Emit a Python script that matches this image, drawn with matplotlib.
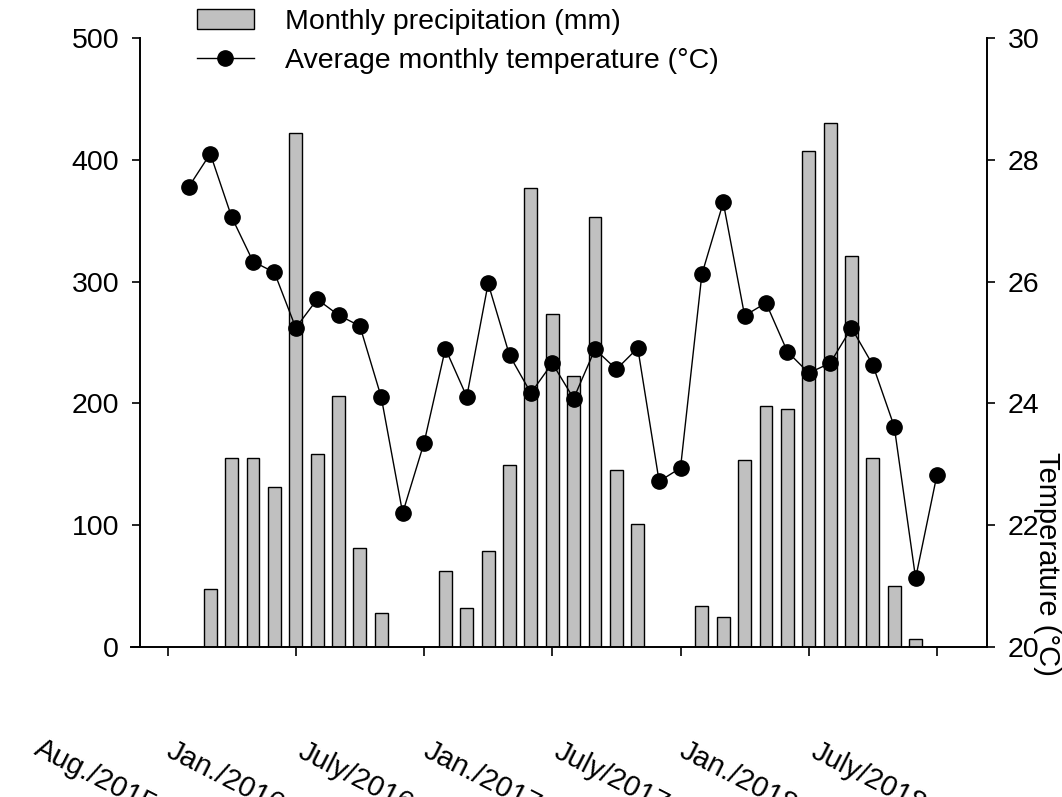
import numpy as np
import matplotlib
matplotlib.use("Agg")
import matplotlib.pyplot as plt
from matplotlib import transforms

plt.rcParams['font.family'] = ['Liberation Sans', 'DejaVu Sans']
plt.rcParams['font.size'] = 20.5

# Monthly series, Aug 2015 .. Jul 2018
precip = [0, 47.6, 155.4, 155.4, 131.6, 421.7, 158.5, 206.3, 81.5, 27.9, 0, 0,
          62.4, 32, 78.8, 149.2, 377, 273.4, 222.8, 353, 145.6, 101.3, 0, 0,
          33.7, 24.6, 153.8, 197.6, 195.7, 407.5, 430.5, 321.3, 155.2, 50.3, 6.6, 0]
temp = [27.56, 28.10, 27.06, 26.33, 26.15, 25.24, 25.71, 25.45, 25.27, 24.10, 22.20, 23.35,
        24.90, 24.11, 25.97, 24.79, 24.17, 24.66, 24.08, 24.89, 24.56, 24.91, 22.72, 22.94,
        26.12, 27.30, 25.44, 25.65, 24.85, 24.50, 24.66, 25.24, 24.63, 23.62, 21.13, 22.83]
tick_pos = [-1, 5, 11, 17, 23, 29, 35]
tick_labels = ["Aug./2015", "Jan./2016", "July/2016", "Jan./2017",
               "July/2017", "Jan./2018", "July/2018"]

months = np.arange(len(precip))

fig = plt.figure(figsize=(10.62, 7.97), dpi=100)
ax = fig.add_axes([131 / 1062, 1 - 647 / 797, 856 / 1062, 609 / 797])
ax2 = ax.twinx()

bars = ax.bar(months, precip, width=0.6, color="#c0c0c0", edgecolor="black",
              linewidth=1.0, label="Monthly precipitation (mm)")
line, = ax2.plot(months, temp, color="black", linewidth=1.0, marker="o",
                 markersize=11, label="Average monthly temperature (°C)")

ax.set_xlim(-2.71, 37.34)
ax.set_ylim(0, 500)
ax2.set_ylim(20, 30)
ax.set_yticks(np.arange(0, 501, 100))
ax2.set_yticks(np.arange(20, 31, 2))

for a in (ax, ax2):
    a.spines['top'].set_visible(False)
    for s in a.spines.values():
        s.set_linewidth(1.4)
ax.spines['right'].set_visible(False)
ax2.spines['left'].set_visible(False)
ax2.spines['bottom'].set_visible(False)
ax.spines['left'].set_position(('axes', 0.0105))

ax.tick_params(axis='y', direction='out', length=6, width=1.2, pad=9)
ax2.tick_params(axis='y', direction='out', length=6, width=1.2, pad=9)
ax.set_xticks(tick_pos)
ax.set_xticklabels([])
ax.tick_params(axis='x', direction='out', length=6.5, width=1.2)

# rotated date labels, pushed far below the axis (partly cut by the edge)
trans = transforms.blended_transform_factory(ax.transData, fig.transFigure)
trans = trans + transforms.ScaledTranslation(-5 / 72, 0, fig.dpi_scale_trans)
for p, lab in zip(tick_pos, tick_labels):
    ax.text(p, 1 - 794 / 797, lab, transform=trans, rotation=-27,
            rotation_mode='anchor', ha='right', va='top', fontsize=21,
            clip_on=False)

fig.text(1047 / 1062, 1 - 564 / 797, "Temperature (°C)", rotation=-90,
         ha='center', va='center', fontsize=21)

fig.legend([bars, line], [bars.get_label(), line.get_label()],
           loc='upper left', bbox_to_anchor=(197 / 1062, 1 - 9 / 797),
           bbox_transform=fig.transFigure, frameon=False, fontsize=20.5,
           borderpad=0, borderaxespad=0, handlelength=2.0, handletextpad=1.1,
           labelspacing=0.45, numpoints=1)

fig.savefig("out.png", dpi=100)
